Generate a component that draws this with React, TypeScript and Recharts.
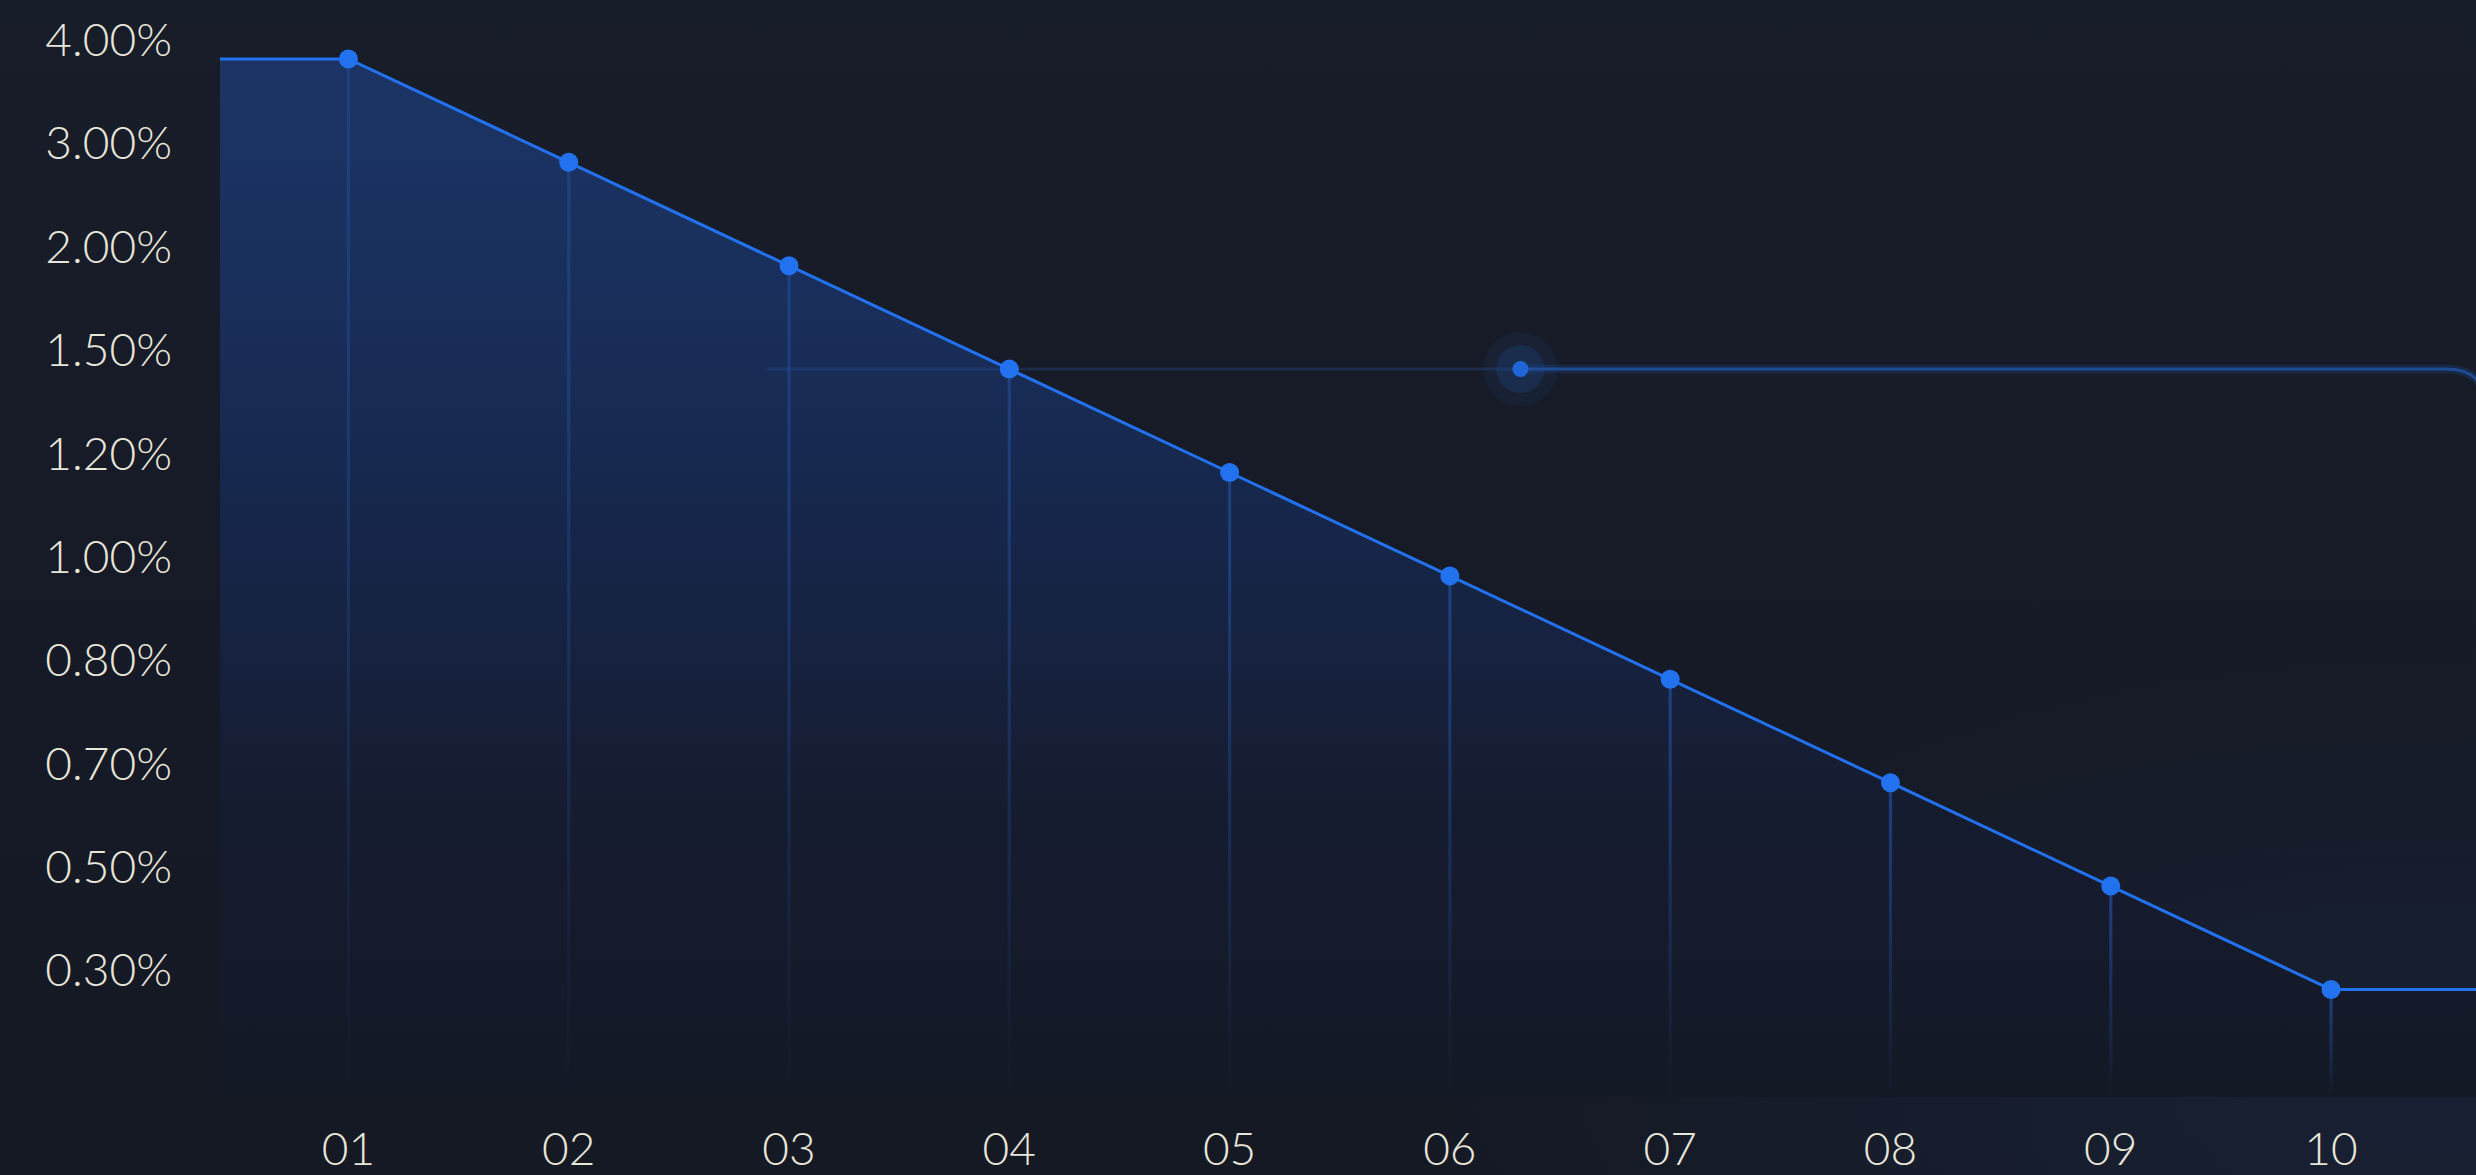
import { AreaChart, Area, XAxis, YAxis, ReferenceLine, ReferenceDot } from 'recharts';

const PERIODS = ['01', '02', '03', '04', '05', '06', '07', '08', '09', '10'];
const RATE_LABELS = ['4.00%', '3.00%', '2.00%', '1.50%', '1.20%', '1.00%', '0.80%', '0.70%', '0.50%', '0.30%'];
const PERIOD_RATES = ['4.00%', '3.00%', '2.00%', '1.50%', '1.20%', '1.00%', '0.80%', '0.70%', '0.50%', '0.30%'];

// highlighted level with the glowing marker
const MARKER_RATE = '1.50%';
const MARKER_X = 6.32;
const MARKER_FROM = 2.9;

const X_DOMAIN: [number, number] = [0.417, 10.658];
const Y_DOMAIN: [number, number] = [-1.04, 9.57];

const CHART_W = 2476;
const CHART_H = 1175;
const Y_AXIS_W = 220;
const X_AXIS_H = 78;
const PLOT_BOTTOM = CHART_H - X_AXIS_H;

const TEXT = '#e8e5d9';
const LINE = '#2272f0';
const FONT = 'Lato, "Noto Sans", sans-serif';

// rates sit on evenly spaced levels, top label = highest level
const level = (rate: string) => RATE_LABELS.length - 1 - RATE_LABELS.indexOf(rate);

const points = PERIODS.map((period, i) => ({ x: i + 1, level: level(PERIOD_RATES[i]), period }));
const data = [
  { x: X_DOMAIN[0], level: points[0].level },
  ...points,
  { x: X_DOMAIN[1], level: points[points.length - 1].level },
];

const yTicks = RATE_LABELS.map((_, i) => i);
const xTicks = PERIODS.map((_, i) => i + 1);

function YTick(props: any) {
  const { x, y, payload } = props;
  return (
    <text x={x} y={y - 3} textAnchor="end" fill={TEXT} fontSize={46} fontWeight={300} fontFamily={FONT}>
      {RATE_LABELS[RATE_LABELS.length - 1 - payload.value]}
    </text>
  );
}

function XTick(props: any) {
  const { x, payload } = props;
  return (
    <text x={x} y={PLOT_BOTTOM + 68} textAnchor="middle" fill={TEXT} fontSize={46} fontWeight={300} fontFamily={FONT}>
      {PERIODS[Math.round(payload.value) - 1]}
    </text>
  );
}

function PointDot(props: any) {
  const { cx, cy, payload, index } = props;
  if (!payload.period) return <g key={index} />;
  return (
    <g key={index}>
      <rect x={cx - 1.6} y={cy + 6} width={3.2} height={PLOT_BOTTOM - cy - 6} fill="url(#dropFade)" />
      <circle cx={cx} cy={cy} r={9.5} fill={LINE} />
    </g>
  );
}

function GlowDot(props: any) {
  const { cx, cy } = props;
  return (
    <g>
      <circle cx={cx} cy={cy} r={37} fill="rgba(36,86,170,0.10)" />
      <circle cx={cx} cy={cy} r={24} fill="rgba(36,86,170,0.22)" />
      <circle cx={cx} cy={cy} r={8} fill="#2166d6" />
    </g>
  );
}

function CornerLine(props: any) {
  const { x1, y1, x2 } = props;
  const d = `M${x1},${y1} H${x2 - 30} Q${x2 + 10},${y1} ${x2 + 10},${y1 + 40} V${y1 + 300}`;
  return (
    <g>
      <path d={d} fill="none" stroke="rgba(33,82,165,0.22)" strokeWidth={9} />
      <path d={d} fill="none" stroke="#1f4b92" strokeWidth={3} />
    </g>
  );
}

export default function App() {
  const markerLevel = level(MARKER_RATE);
  return (
    <div
      style={{
        position: 'absolute',
        left: 0,
        top: 0,
        width: CHART_W,
        height: CHART_H,
        background:
          'radial-gradient(ellipse at 98% 95%, rgba(24,34,54,0.8) 0%, rgba(24,34,54,0) 30%), linear-gradient(180deg, #181d2a 0%, #161a26 60%, #151924 100%)',
      }}
    >
      <AreaChart width={CHART_W} height={CHART_H} data={data} margin={{ top: 0, right: 0, bottom: 0, left: 0 }}>
        <defs>
          <linearGradient id="areaFill" x1="0" y1="0" x2="0" y2="1">
            <stop offset="0%" stopColor="#1c3566" />
            <stop offset="30%" stopColor="#182c56" />
            <stop offset="45%" stopColor="#16264a" />
            <stop offset="72%" stopColor="#161c30" />
            <stop offset="100%" stopColor="#141926" />
          </linearGradient>
          <linearGradient id="dropFade" x1="0" y1="0" x2="0" y2="1">
            <stop offset="0%" stopColor="#1f4182" stopOpacity={0.95} />
            <stop offset="60%" stopColor="#1f4182" stopOpacity={0.4} />
            <stop offset="100%" stopColor="#1f4182" stopOpacity={0} />
          </linearGradient>
        </defs>
        <XAxis
          dataKey="x"
          type="number"
          domain={X_DOMAIN}
          ticks={xTicks}
          allowDataOverflow
          height={X_AXIS_H}
          axisLine={false}
          tickLine={false}
          tickSize={0}
          tick={<XTick />}
          interval={0}
        />
        <YAxis
          type="number"
          domain={Y_DOMAIN}
          ticks={yTicks}
          allowDataOverflow
          width={Y_AXIS_W}
          axisLine={false}
          tickLine={false}
          tickSize={0}
          tickMargin={48}
          tick={<YTick />}
          interval={0}
        />
        <Area
          type="linear"
          dataKey="level"
          baseValue="dataMin"
          stroke={LINE}
          strokeWidth={3}
          fill="url(#areaFill)"
          fillOpacity={1}
          dot={<PointDot />}
          activeDot={false}
          isAnimationActive={false}
        />
        <ReferenceLine
          segment={[
            { x: MARKER_FROM, y: markerLevel },
            { x: MARKER_X, y: markerLevel },
          ]}
          stroke="rgba(40,88,170,0.26)"
          strokeWidth={3}
        />
        <ReferenceLine
          segment={[
            { x: MARKER_X, y: markerLevel },
            { x: X_DOMAIN[1], y: markerLevel },
          ]}
          shape={<CornerLine />}
        />
        <ReferenceDot x={MARKER_X} y={markerLevel} r={8} shape={<GlowDot />} />
      </AreaChart>
    </div>
  );
}
